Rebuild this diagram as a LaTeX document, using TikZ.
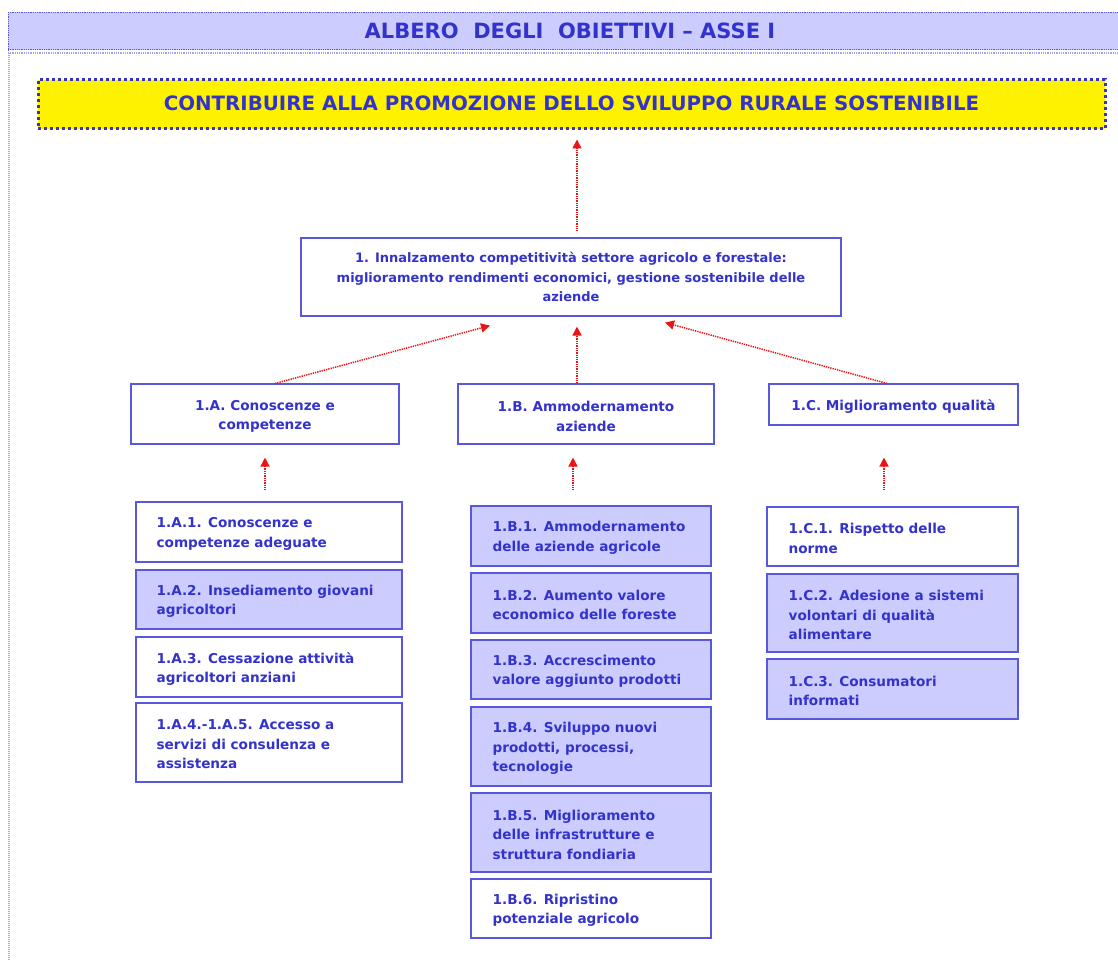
\documentclass[tikz,border=0pt]{standalone}
\usepackage{fontspec}
\setmainfont{DejaVu Sans}
\usetikzlibrary{arrows.meta,calc}
\definecolor{tblue}{RGB}{51,51,204}
\definecolor{bblue}{RGB}{88,88,222}
\definecolor{lav}{RGB}{204,204,255}
\definecolor{faint}{RGB}{165,165,235}
\definecolor{dred}{RGB}{235,20,20}
\begin{document}
\begin{tikzpicture}[x=1pt,y=-1pt,
  box/.style={draw=bblue, line width=1.1pt, inner sep=0pt, fill=white},
  subbox/.style={box, fill=lav},
  txt/.style={font=\fontsize{13.6}{19.5}\selectfont\bfseries, text=tblue, inner sep=0pt, align=left, yshift=-2pt},
  ctxt/.style={txt, align=center},
  conn/.style={draw=dred, line width=1.5pt, dash pattern=on 1.3pt off 1pt, -{Triangle[length=9pt,width=9pt]}}
]
\useasboundingbox (0,0) rectangle (1118,960);
\fill[white] (0,0) rectangle (1118,960);
% banner
\fill[lav] (8,12) rectangle (1118,50);
\draw[bblue, line width=1pt, dash pattern=on 1pt off 0.8pt] (8,12.5) -- (1118,12.5);
\draw[bblue, line width=1pt, dash pattern=on 1pt off 0.8pt] (8,49.5) -- (1118,49.5);
\draw[bblue, line width=1pt, dash pattern=on 1pt off 0.8pt] (8.5,12) -- (8.5,50);
\draw[faint, line width=1.2pt, dash pattern=on 1pt off 0.8pt] (8,53) -- (1118,53);
\draw[faint, line width=1.8pt, dash pattern=on 1pt off 1pt] (9,53) -- (9,960);
\node[font=\fontsize{21}{24}\selectfont\bfseries, text=tblue, inner sep=0pt] (title) at (570,31) {ALBERO\ \ DEGLI\ \ OBIETTIVI – ASSE I};
% goal
\node[fill=yellow, draw=tblue, line width=3pt, dash pattern=on 3pt off 3pt, inner sep=0pt, minimum width=1067pt, minimum height=49pt] (goal) at (571.5,104.5) {};
\node[font=\fontsize{19.8}{22}\selectfont\bfseries, text=tblue, inner sep=0pt] (goalt) at (571.5,103) {CONTRIBUIRE ALLA PROMOZIONE DELLO SVILUPPO RURALE SOSTENIBILE};
% level 1
\node[box, minimum width=540pt, minimum height=78pt] (one) at (571,277) {};
\node[ctxt, font=\fontsize{13}{19.5}\selectfont\bfseries, yshift=2pt] (onet) at (571,277) {1. Innalzamento competitività settore agricolo e forestale:\\miglioramento rendimenti economici, gestione sostenibile delle\\aziende};
% level 2
\node[box, minimum width=268pt, minimum height=60pt] (A) at (265,414) {};
\node[ctxt] (At) at (265,414.5) {1.A. Conoscenze e\\competenze};
\node[box, minimum width=256pt, minimum height=60pt] (B) at (586,414) {};
\node[ctxt] (Bt) at (586,414.5) {1.B. Ammodernamento\\aziende};
\node[box, minimum width=249pt, minimum height=41pt] (C) at (893.5,404.5) {};
\node[ctxt] (Ct) at (893.5,405) {1.C. Miglioramento qualità};
% left column
\node[box, minimum width=266pt, minimum height=60pt] (a1) at (269,532) {};
\node[txt, anchor=west] (a1t) at ($(a1.west)+(21,0)$) {1.A.1. Conoscenze e\\competenze adeguate};
\node[subbox, minimum width=266pt, minimum height=59pt] (a2) at (269,599.5) {};
\node[txt, anchor=west] (a2t) at ($(a2.west)+(21,0)$) {1.A.2. Insediamento giovani\\agricoltori};
\node[box, minimum width=266pt, minimum height=60pt] (a3) at (269,667) {};
\node[txt, anchor=west] (a3t) at ($(a3.west)+(21,0)$) {1.A.3. Cessazione attività\\agricoltori anziani};
\node[box, minimum width=266pt, minimum height=79pt] (a4) at (269,742.5) {};
\node[txt, anchor=west] (a4t) at ($(a4.west)+(21,0)$) {1.A.4.-1.A.5. Accesso a\\servizi di consulenza e\\assistenza};
% middle column
\node[subbox, minimum width=240pt, minimum height=60pt] (b1) at (591,536) {};
\node[txt, anchor=west] (b1t) at ($(b1.west)+(22,0)$) {1.B.1. Ammodernamento\\delle aziende agricole};
\node[subbox, minimum width=240pt, minimum height=60pt] (b2) at (591,603) {};
\node[txt, anchor=west] (b2t) at ($(b2.west)+(22,0)$) {1.B.2. Aumento valore\\economico delle foreste};
\node[subbox, minimum width=240pt, minimum height=59pt] (b3) at (591,669.5) {};
\node[txt, anchor=west] (b3t) at ($(b3.west)+(22,0)$) {1.B.3. Accrescimento\\valore aggiunto prodotti};
\node[subbox, minimum width=240pt, minimum height=79pt] (b4) at (591,746.5) {};
\node[txt, anchor=west] (b4t) at ($(b4.west)+(22,0)$) {1.B.4. Sviluppo nuovi\\prodotti, processi,\\tecnologie};
\node[subbox, minimum width=240pt, minimum height=79pt] (b5) at (591,832.5) {};
\node[txt, anchor=west] (b5t) at ($(b5.west)+(22,0)$) {1.B.5. Miglioramento\\delle infrastrutture e\\struttura fondiaria};
\node[box, minimum width=240pt, minimum height=59pt] (b6) at (591,908.5) {};
\node[txt, anchor=west] (b6t) at ($(b6.west)+(22,0)$) {1.B.6. Ripristino\\potenziale agricolo};
% right column
\node[box, minimum width=251pt, minimum height=59pt] (c1) at (892.5,536.5) {};
\node[txt, anchor=west] (c1t) at ($(c1.west)+(22,0)$) {1.C.1. Rispetto delle\\norme};
\node[subbox, minimum width=251pt, minimum height=78pt] (c2) at (892.5,613) {};
\node[txt, anchor=west] (c2t) at ($(c2.west)+(22,0)$) {1.C.2. Adesione a sistemi\\volontari di qualità\\alimentare};
\node[subbox, minimum width=251pt, minimum height=60pt] (c3) at (892.5,689) {};
\node[txt, anchor=west] (c3t) at ($(c3.west)+(22,0)$) {1.C.3. Consumatori\\informati};
% connectors
\draw[conn] ($(one.north)+(6,-6)$) -- ($(goal.south)+(5.5,9)$);
\draw[conn] ($(A.north)+(10,0)$) -- ($(one.south)+(-81,9)$);
\draw[conn] ($(B.north)+(-9,0)$) -- ($(one.south)+(6,10)$);
\draw[conn] ($(C.north)+(-6.5,0)$) -- ($(one.south)+(94,6)$);
\draw[conn] ($(a1.north)+(-4,-11)$) -- ($(A.south)+(0,13)$);
\draw[conn] ($(b1.north)+(-18,-15)$) -- ($(B.south)+(-13,13)$);
\draw[conn] ($(c1.north)+(-8.5,-16)$) -- ($(C.south)+(-9.5,32)$);
\end{tikzpicture}
\end{document}
